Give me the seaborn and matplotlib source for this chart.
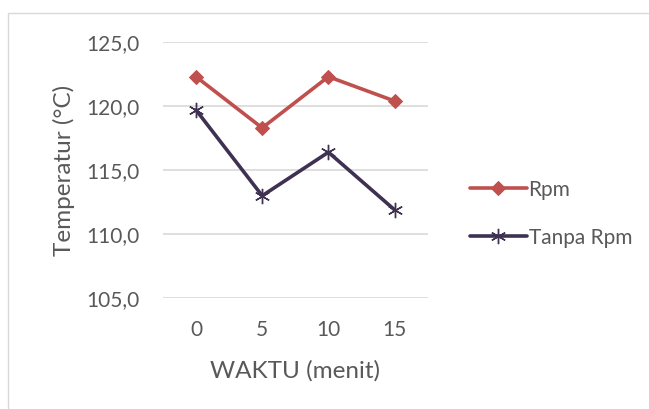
import seaborn as sns
import matplotlib.pyplot as plt
import matplotlib.patches as mpatches

waktu = ["0", "5", "10", "15"]
rpm = [122.3, 118.3, 122.3, 120.4]
tanpa_rpm = [119.7, 113.0, 116.4, 111.9]
y_ticks = [105, 110, 115, 120, 125]

sns.set_style("white")
plt.rcParams['font.family'] = ['Lato', 'DejaVu Sans']
text_color = "#595959"

fig = plt.figure(figsize=(6.49, 4.09), dpi=100)
ax = fig.add_axes([0.251, 0.271, 0.408, 0.626])

sns.lineplot(x=waktu, y=rpm, sort=False, color="#C0504D", marker="D",
             markersize=7.5, markeredgecolor="#C0504D", linewidth=2.6,
             label="Rpm", ax=ax)
sns.lineplot(x=waktu, y=tanpa_rpm, sort=False, color="#3F3151", marker=(6, 2, 0),
             markersize=11, markeredgecolor="#3F3151", markeredgewidth=1.0,
             linewidth=2.6, label="Tanpa Rpm", ax=ax)

ax.set_xlim(-0.5, 3.5)
ax.set_ylim(105, 125)
ax.set_yticks(y_ticks)
ax.set_yticklabels([f"{v:.1f}".replace('.', ',') for v in y_ticks])
ax.grid(axis='y', color="#D9D9D9", linewidth=1.2)
ax.set_axisbelow(True)
for s in ax.spines.values():
    s.set_visible(False)
ax.tick_params(axis='both', length=0, labelsize=15, colors=text_color)
ax.tick_params(axis='y', pad=17)
ax.tick_params(axis='x', pad=16)
ax.set_xlabel("WAKTU (menit)", fontsize=17.5, color=text_color, labelpad=14)
ax.set_ylabel("Temperatur (°C)", fontsize=17.5, color=text_color, labelpad=8)

ax.legend(loc='center left', bbox_to_anchor=(1.09, 0.33),
          frameon=False, fontsize=15, labelcolor=text_color,
          handlelength=2.7, handletextpad=0.1, labelspacing=1.35)

fig.patches.append(mpatches.Rectangle((8 / 649, -0.1), 1.0, 1.1 - 13 / 409,
                                      transform=fig.transFigure, fill=False,
                                      edgecolor="#D9D9D9", linewidth=1.0))

fig.savefig("out.png", dpi=100)
